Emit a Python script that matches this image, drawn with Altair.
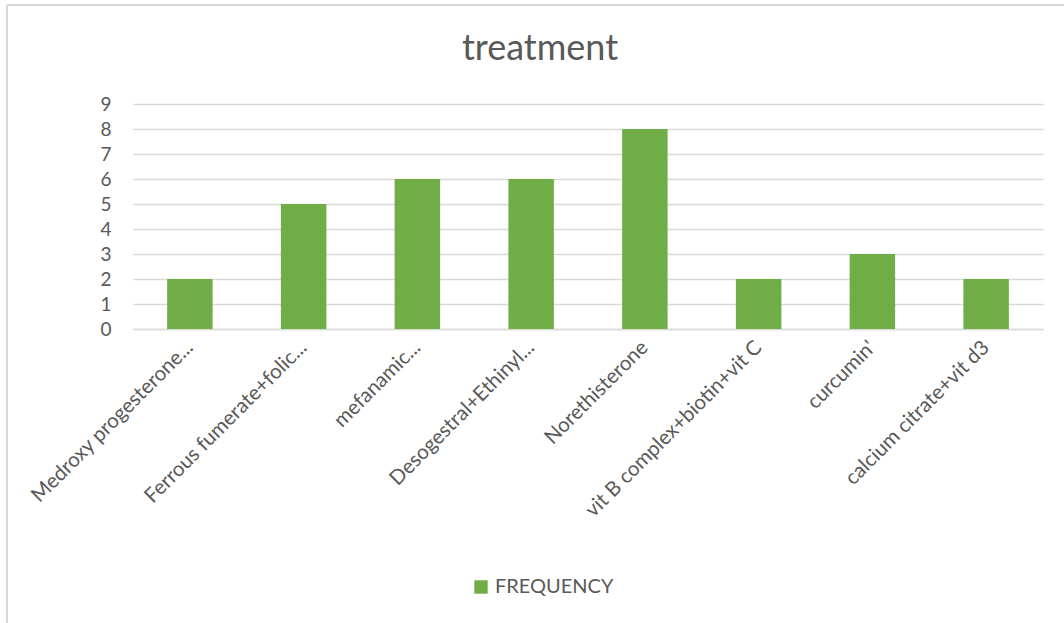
import altair as alt
import pandas as pd

categories = [
    "Medroxy progesterone...",
    "Ferrous fumerate+folic...",
    "mefanamic...",
    "Desogestral+Ethinyl...",
    "Norethisterone",
    "vit B complex+biotin+vit C",
    "curcumin'",
    "calcium citrate+vit d3",
]
frequency = [2, 5, 6, 6, 8, 2, 3, 2]
series_name = "FREQUENCY"
y_ticks = [0, 1, 2, 3, 4, 5, 6, 7, 8, 9]

df = pd.DataFrame({"treatment": categories, "value": frequency, "series": [series_name] * len(categories)})

FONT = "Lato"
GREY = "#595959"
BORDER = "#d9d9d9"

bars = (
    alt.Chart(df)
    .mark_bar(color="#70AD47")
    .encode(
        x=alt.X(
            "treatment:N",
            sort=categories,
            scale=alt.Scale(paddingInner=0.6, paddingOuter=0.3),
            axis=alt.Axis(
                title=None,
                labelAngle=-45,
                labelAlign="right",
                labelBaseline="middle",
                labelFontSize=20.5,
                labelColor=GREY,
                labelFont=FONT,
                labelPadding=15,
                ticks=False,
                domainColor=BORDER,
                domainWidth=1.5,
                labelLimit=400,
            ),
        ),
        y=alt.Y(
            "value:Q",
            scale=alt.Scale(domain=[0, 9]),
            axis=alt.Axis(
                title=None,
                values=y_ticks,
                labelFontSize=19,
                labelColor=GREY,
                labelFont=FONT,
                labelPadding=22,
                ticks=False,
                domain=False,
                gridColor=BORDER,
                gridWidth=1.5,
            ),
        ),
        fill=alt.Fill(
            "series:N",
            scale=alt.Scale(range=["#70AD47"]),
            legend=alt.Legend(
                title=None,
                orient="none",
                legendX=338,
                legendY=473,
                symbolType="square",
                symbolSize=180,
                symbolStrokeWidth=0,
                labelFontSize=20,
                labelColor=GREY,
                labelFont=FONT,
            ),
        ),
    )
)

# outer chart frame (light grey, visible on left and top as in the reference)
frame_top = alt.Chart(df).mark_rule(color=BORDER, strokeWidth=2).encode(
    x=alt.value(-126), x2=alt.value(935), y=alt.value(-99)
)
frame_left = alt.Chart(df).mark_rule(color=BORDER, strokeWidth=2).encode(
    x=alt.value(-126), y=alt.value(-99), y2=alt.value(520)
)

chart = (
    alt.layer(frame_top, frame_left, bars)
    .properties(
        width=910,
        height=225,
        title=alt.TitleParams(
            "treatment",
            fontSize=36,
            font=FONT,
            fontWeight="normal",
            color=GREY,
            anchor="middle",
            dx=-48,
            offset=-64,
        ),
        autosize=alt.AutoSizeParams(type="none"),
        padding={"left": 133, "top": 104, "right": 21, "bottom": 294},
    )
    .configure_view(stroke=None)
)

chart.save("out.html", embed_options={"renderer": "svg", "actions": False})
